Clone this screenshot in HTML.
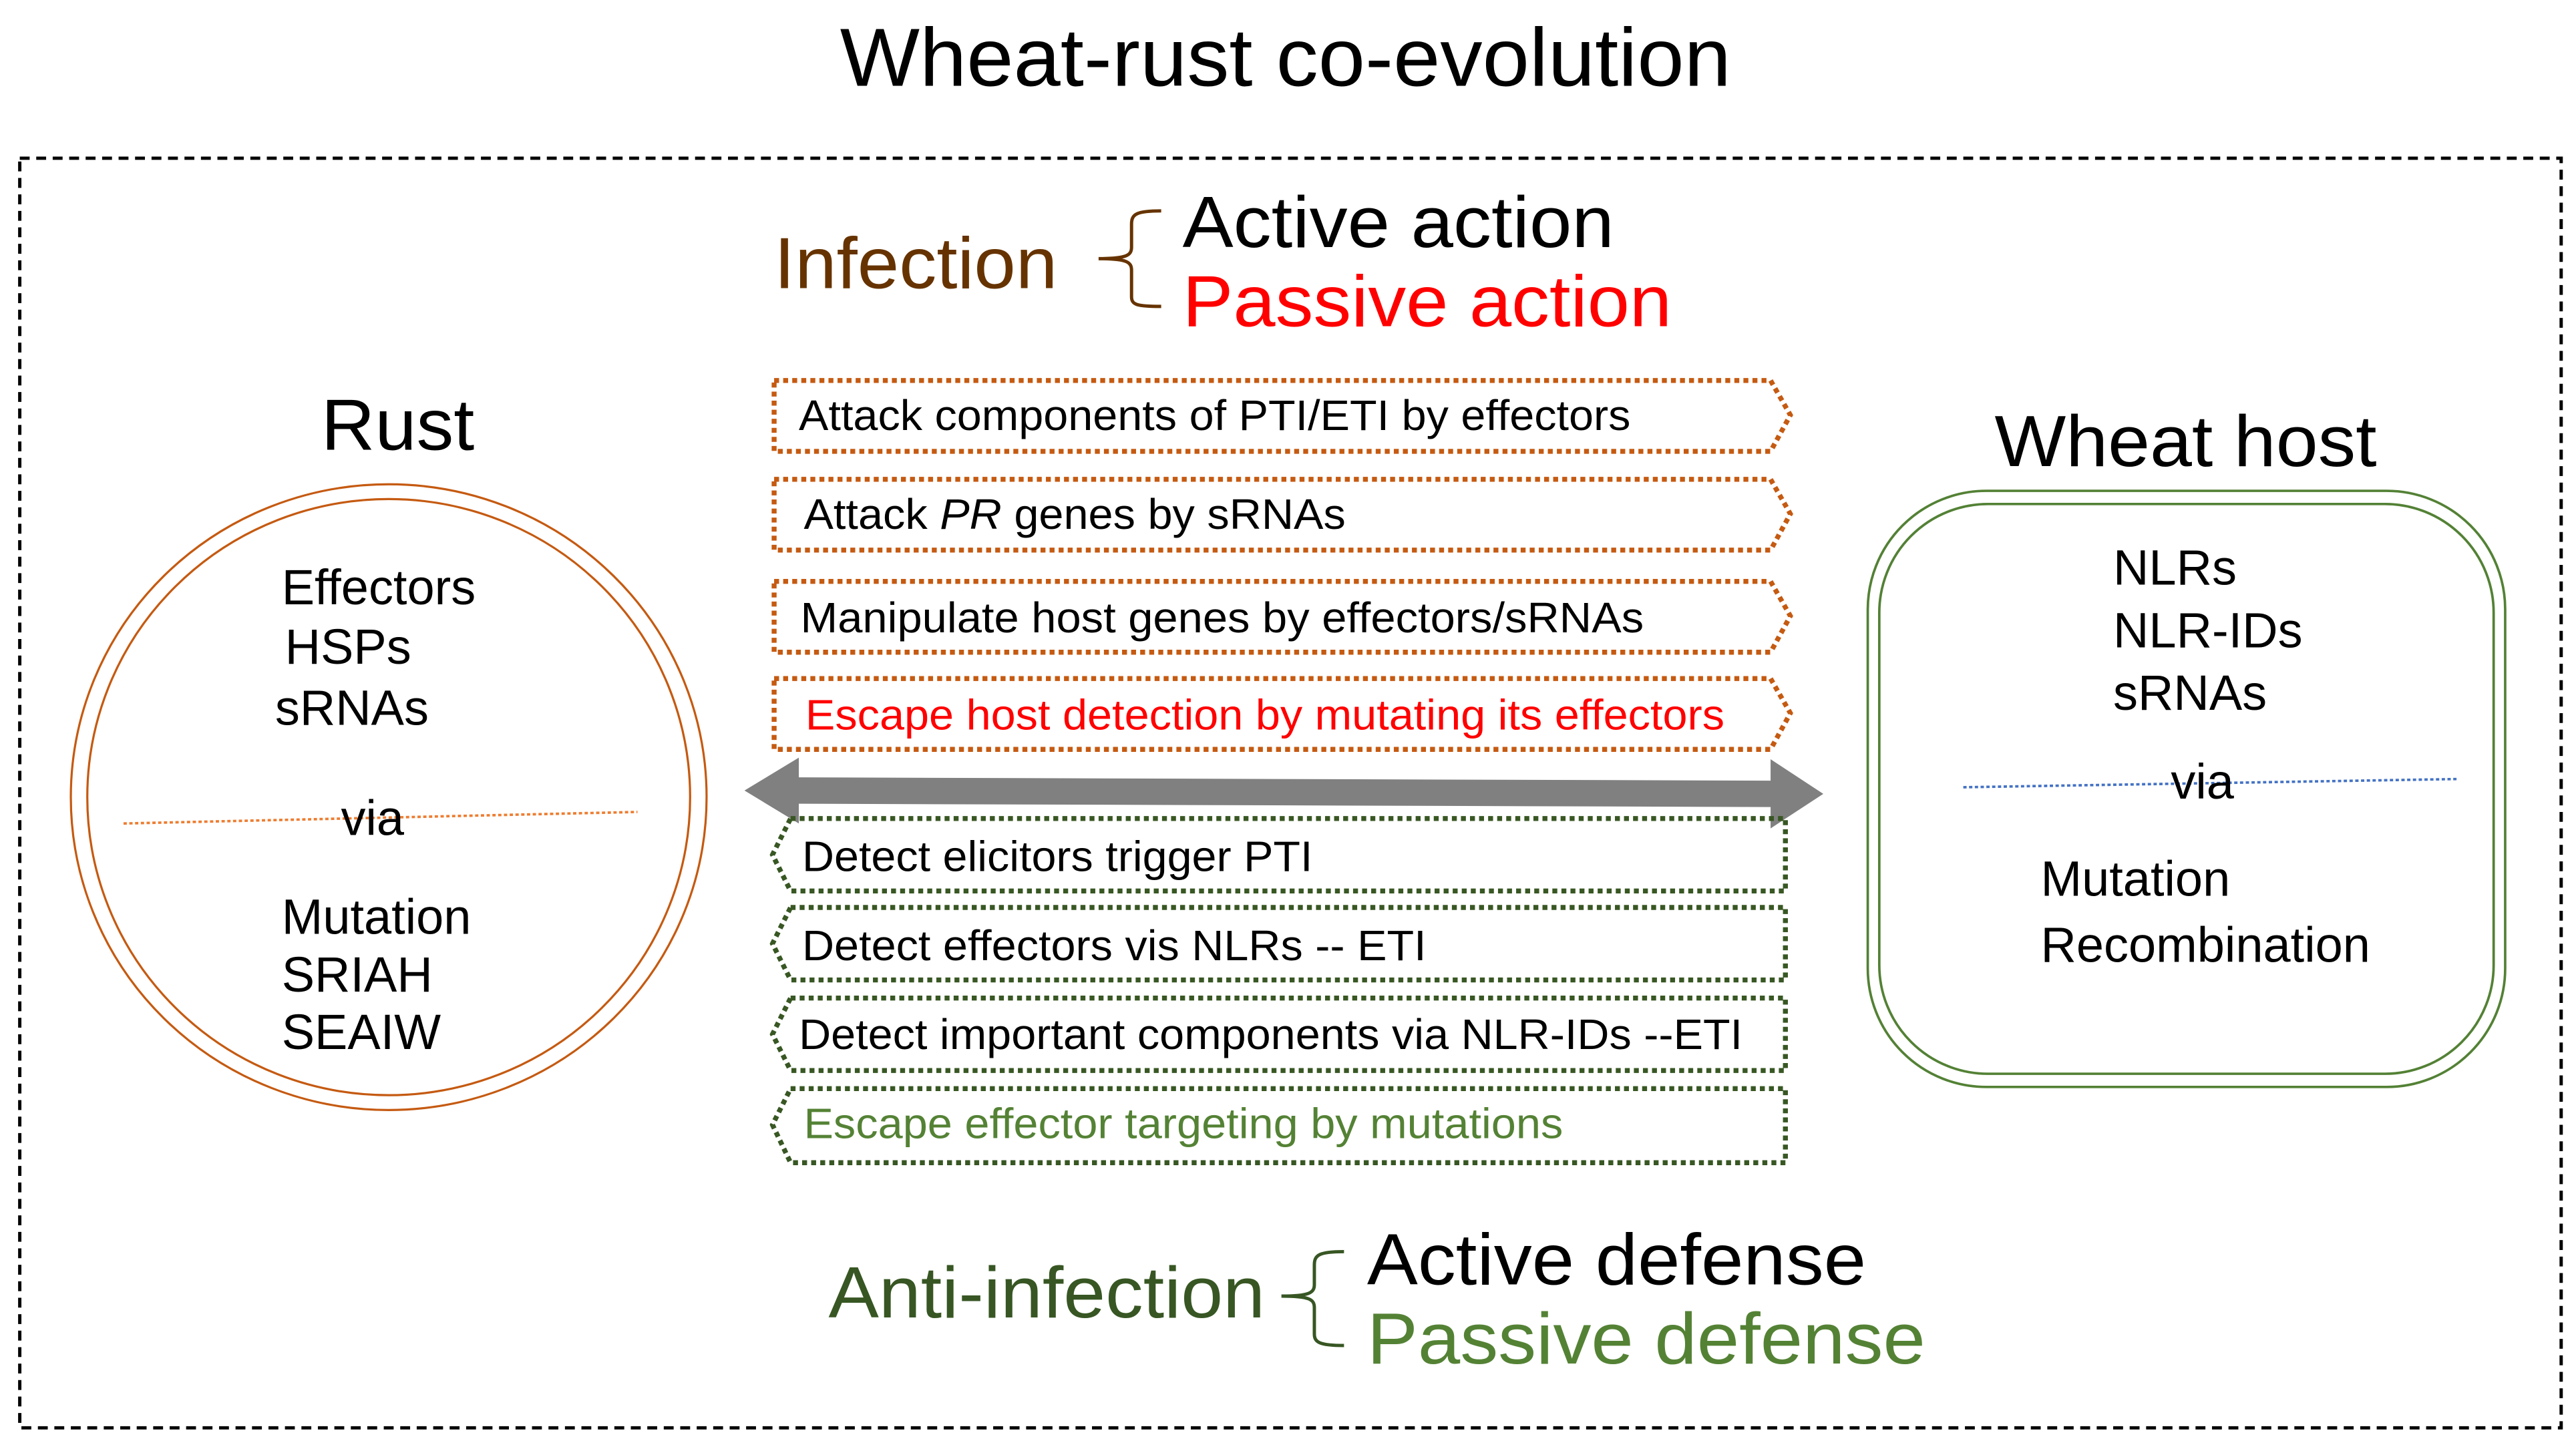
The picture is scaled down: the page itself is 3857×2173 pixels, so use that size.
<!DOCTYPE html>
<html><head><meta charset="utf-8"><style>html,body{margin:0;padding:0;background:#fff}svg{display:block}</style></head>
<body>
<svg width="3857" height="2173" viewBox="0 0 1564 881" xmlns="http://www.w3.org/2000/svg" font-family="'Liberation Sans', sans-serif">
<rect x="0" y="0" width="1564" height="881" fill="#fff"/>
<text x="510" y="52" font-size="50" textLength="541" lengthAdjust="spacingAndGlyphs">Wheat-rust co-evolution</text>
<rect x="12" y="96" width="1543" height="771" fill="none" stroke="#000" stroke-width="2" stroke-dasharray="6 4"/>

<!-- Infection -->
<text x="470" y="175" font-size="44" fill="#663300" textLength="172" lengthAdjust="spacingAndGlyphs">Infection</text>
<path d="M705,128 C690,128 687,130 687,136 L687,150 C687,155 684,157 667,157 C684,157 687,159 687,164 L687,180 C687,185 690,186 705,186" fill="none" stroke="#663300" stroke-width="2"/>
<text x="718" y="150" font-size="44" fill="#000" textLength="262" lengthAdjust="spacingAndGlyphs">Active action</text>
<text x="718" y="198" font-size="44" fill="#ff0000" textLength="297" lengthAdjust="spacingAndGlyphs">Passive action</text>

<!-- orange boxes -->
<g fill="none" stroke="#C55A11" stroke-width="3" stroke-dasharray="3 2.5">
<path d="M470,231 L1075,231 L1087,252 L1075,274 L470,274 Z"/>
<path d="M470,291 L1075,291 L1087,312 L1075,334 L470,334 Z"/>
<path d="M470,353 L1075,353 L1087,374 L1075,396 L470,396 Z"/>
<path d="M470,412 L1075,412 L1087,433 L1075,455 L470,455 Z"/>
</g>
<g font-size="26">
<text x="485" y="261" textLength="505" lengthAdjust="spacingAndGlyphs">Attack components of PTI/ETI by effectors</text>
<text x="488" y="321" textLength="329" lengthAdjust="spacingAndGlyphs">Attack <tspan font-style="italic">PR</tspan> genes by sRNAs</text>
<text x="486" y="384" textLength="512" lengthAdjust="spacingAndGlyphs">Manipulate host genes by effectors/sRNAs</text>
<text x="489" y="443" fill="#ff0000" textLength="558" lengthAdjust="spacingAndGlyphs">Escape host detection by mutating its effectors</text>
</g>

<!-- gray double arrow -->
<path d="M452,480 L485,460 L485,472 L1075,474 L1075,461 L1107,482 L1075,503 L1075,490 L485,488 L485,500 Z" fill="#808080"/>

<!-- green boxes -->
<g fill="none" stroke="#385723" stroke-width="3" stroke-dasharray="3 2.5">
<path d="M480,497 L1084,497 L1084,541 L480,541 L469,519 Z"/>
<path d="M480,551 L1084,551 L1084,595 L480,595 L469,573 Z"/>
<path d="M480,606 L1084,606 L1084,650 L480,650 L469,628 Z"/>
<path d="M480,661 L1084,661 L1084,706 L480,706 L469,683 Z"/>
</g>
<g font-size="26">
<text x="487" y="529" textLength="310" lengthAdjust="spacingAndGlyphs">Detect elicitors trigger PTI</text>
<text x="487" y="583" textLength="379" lengthAdjust="spacingAndGlyphs">Detect effectors vis NLRs -- ETI</text>
<text x="485" y="637" textLength="573" lengthAdjust="spacingAndGlyphs">Detect important components via NLR-IDs --ETI</text>
<text x="488" y="691" fill="#548235" textLength="461" lengthAdjust="spacingAndGlyphs">Escape effector targeting by mutations</text>
</g>

<!-- Anti-infection -->
<text x="503" y="800" font-size="44" fill="#375623" textLength="265" lengthAdjust="spacingAndGlyphs">Anti-infection</text>
<path d="M816,760 C801,760 798,762 798,768 L798,780 C798,785 795,787 778,787 C795,787 798,789 798,794 L798,810 C798,815 801,817 816,817" fill="none" stroke="#375623" stroke-width="2"/>
<text x="830" y="780" font-size="44" fill="#000" textLength="303" lengthAdjust="spacingAndGlyphs">Active defense</text>
<text x="830" y="828" font-size="44" fill="#548235" textLength="339" lengthAdjust="spacingAndGlyphs">Passive defense</text>

<!-- Rust -->
<text x="195" y="273" font-size="44" textLength="93" lengthAdjust="spacingAndGlyphs">Rust</text>
<ellipse cx="236" cy="484" rx="193" ry="190" fill="none" stroke="#C55A11" stroke-width="1.3"/>
<ellipse cx="236" cy="484" rx="183" ry="181" fill="none" stroke="#C55A11" stroke-width="1.3"/>
<line x1="75" y1="500" x2="387" y2="493" stroke="#ED7D31" stroke-width="1.5" stroke-dasharray="2 1.5"/>
<g font-size="30">
<text x="171" y="367">Effectors</text>
<text x="173" y="403">HSPs</text>
<text x="167" y="440">sRNAs</text>
<text x="207" y="507">via</text>
<text x="171" y="567">Mutation</text>
<text x="171" y="602">SRIAH</text>
<text x="171" y="637">SEAIW</text>
</g>

<!-- Wheat host -->
<text x="1211" y="283" font-size="44" textLength="232" lengthAdjust="spacingAndGlyphs">Wheat host</text>
<rect x="1134" y="298" width="387" height="362" rx="72" ry="72" fill="none" stroke="#538135" stroke-width="1.5"/>
<rect x="1141" y="306" width="373" height="346" rx="66" ry="66" fill="none" stroke="#538135" stroke-width="1.5"/>
<line x1="1192" y1="478" x2="1492" y2="473" stroke="#4472C4" stroke-width="1.5" stroke-dasharray="2 1.5"/>
<g font-size="30">
<text x="1283" y="355">NLRs</text>
<text x="1283" y="393">NLR-IDs</text>
<text x="1283" y="431">sRNAs</text>
<text x="1318" y="485">via</text>
<text x="1239" y="544">Mutation</text>
<text x="1239" y="584">Recombination</text>
</g>
</svg>
</body></html>
